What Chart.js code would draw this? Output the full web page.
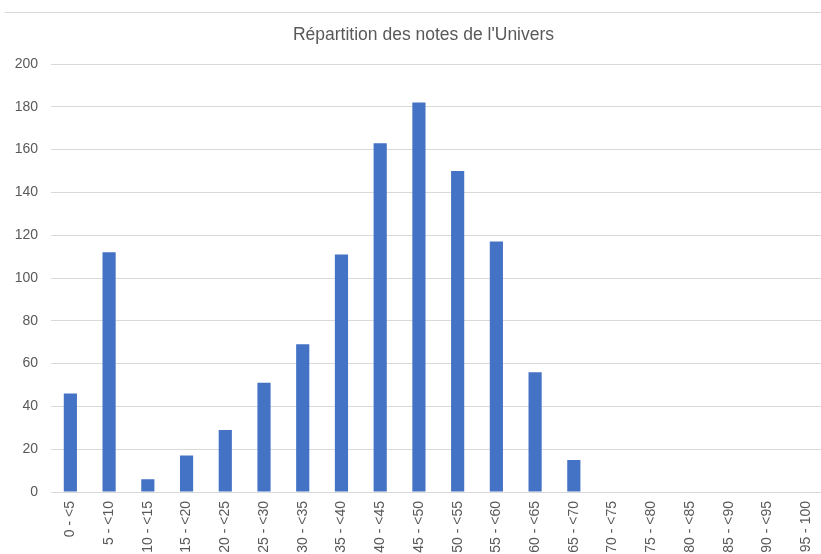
<!DOCTYPE html>
<html>
<head>
<meta charset="utf-8">
<script src="https://cdn.jsdelivr.net/npm/chart.js@4/dist/chart.umd.min.js"></script>
<style>
  html, body { margin: 0; padding: 0; background: #fff; overflow: hidden; width: 821px; height: 554px; }
  #topRule { position: absolute; left: 5px; top: 12px; width: 816px; border-top: 1px solid #d9d9d9; }
  #noteChart { position: absolute; left: 0; top: 0; }
</style>
</head>
<body>
<div id="topRule"></div>
<canvas id="noteChart" width="832" height="572"></canvas>
<script>
/* Data */
const chartTitle = "Répartition des notes de l'Univers";
const classes = [
    '0 - <5', '5 - <10', '10 - <15', '15 - <20', '20 - <25',
    '25 - <30', '30 - <35', '35 - <40', '40 - <45', '45 - <50',
    '50 - <55', '55 - <60', '60 - <65', '65 - <70', '70 - <75',
    '75 - <80', '80 - <85', '85 - <90', '90 - <95', '95 - 100'
];
const counts = [46, 112, 6, 17, 29, 51, 69, 111, 163, 182, 150, 117, 56, 15, 0, 0, 0, 0, 0, 0];
const yTicks = [0, 20, 40, 60, 80, 100, 120, 140, 160, 180, 200];

const textColor = '#595959';
const gridColor = '#d9d9d9';
const fontFamily = '"Liberation Sans", Arial, sans-serif';

const ctx = document.getElementById('noteChart').getContext('2d');

new Chart(ctx, {
    type: 'bar',
    data: {
        labels: classes,
        datasets: [{
            data: counts,
            backgroundColor: '#4472c4',
            borderWidth: 0,
            barPercentage: 1,
            categoryPercentage: 0.34
        }]
    },
    options: {
        responsive: false,
        animation: false,
        layout: { padding: { left: 15, right: 0, top: 0, bottom: 0 } },
        plugins: {
            legend: { display: false },
            tooltip: { enabled: false },
            title: {
                display: true,
                text: chartTitle,
                color: textColor,
                font: { family: fontFamily, size: 17.5, weight: 'normal' },
                padding: { top: 25, bottom: 18 }
            }
        },
        scales: {
            x: {
                grid: { display: false, drawTicks: false },
                border: { display: true, color: gridColor },
                ticks: {
                    color: textColor,
                    font: { family: fontFamily, size: 14 },
                    minRotation: 90,
                    maxRotation: 90,
                    padding: 9,
                    autoSkip: false
                },
                afterFit: (axis) => { axis.height = 80; }
            },
            y: {
                min: 0,
                max: 200,
                afterBuildTicks: (axis) => { axis.ticks = yTicks.map(v => ({ value: v })); },
                grid: { color: gridColor, drawTicks: false },
                border: { display: false },
                ticks: {
                    color: textColor,
                    font: { family: fontFamily, size: 14 },
                    padding: 13
                },
                afterFit: (axis) => { axis.width = 36; }
            }
        }
    }
});
</script>
</body>
</html>
